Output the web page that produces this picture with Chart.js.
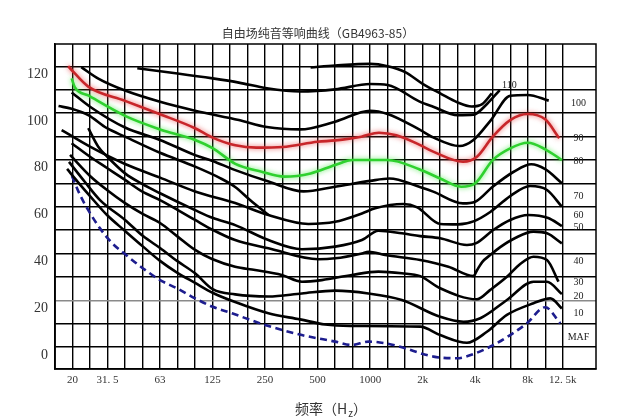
<!DOCTYPE html>
<html>
<head>
<meta charset="utf-8">
<script src="https://cdn.jsdelivr.net/npm/chart.js@4.4.1/dist/chart.umd.min.js"></script>
<style>
  html, body { margin: 0; padding: 0; background: #fff; }
  canvas { display: block; }
</style>
</head>
<body>
<canvas id="chart" width="634" height="417"></canvas>
<script>
// x values are 1/3-octave band numbers: 0 = 20 Hz, 3 bands per octave
const bandIdx = [0, 2, 5, 8, 11, 14, 17, 20, 23, 26, 28];
const bandText = ["20", "31. 5", "63", "125", "250", "500", "1000", "2k", "4k", "8k", "12. 5k"];
const dbTicks = [0, 20, 40, 60, 80, 100, 120];

// equal loudness curves (band, dB)
const p120x = [13.6, 15, 17, 18, 19, 20, 21, 22, 22.8, 23.4, 23.95];
const p120y = [119.5, 120.3, 121, 120, 117.5, 112.5, 108.4, 104.5, 102.8, 103.8, 108.4];

const p110x = [3.7, 6, 8, 9.5, 11.1, 13, 15, 17, 18, 19.8, 20.6, 22, 22.9, 23.7, 24.4];
const p110y = [119.1, 116.9, 114.8, 113, 110.6, 109.2, 110.1, 112.4, 112, 105, 102.7, 99.1, 99.3, 104.1, 109.8];

const p100x = [0.5, 1.5, 3, 5, 7, 9.5, 11.1, 13, 15, 17, 18, 19.8, 20.6, 22.1, 22.9, 23.9, 25, 26, 27.2];
const p100y = [119.6, 114.6, 109.6, 104.8, 101, 97, 94, 93, 96.3, 101, 99.6, 93, 89.6, 85.9, 88.5, 97, 107.4, 107.7, 105.3];

const p90x = [-0.25, 0.9, 3, 5, 7, 8, 9.3, 10.5, 12, 14, 15, 16.5, 17.5, 18.5, 19.8, 20.6, 22.3, 23.1, 24, 25, 26, 27, 27.8];
const p90y = [120, 111.3, 105.2, 99.5, 93.5, 89.5, 86.2, 85.2, 85.5, 87.7, 88.3, 89.9, 91.6, 90.5, 86.5, 83.5, 79.2, 81.3, 89.9, 97, 99.6, 97.3, 89.2];

const p80x = [-0.05, 0.15, 0.9, 3, 5, 7, 8, 9.3, 10.8, 12.1, 13.6, 15, 16, 18, 19.8, 21, 22.2, 23, 24, 25, 26, 27, 27.95];
const p80y = [114.8, 110.8, 107.5, 98.8, 93, 88.5, 85, 78.3, 74.9, 72.8, 74.2, 77.8, 79.9, 79.9, 76, 72, 68.5, 70, 79.9, 84.9, 87.3, 84.5, 79.9];

const p70x = [-0.05, 1, 3, 5, 7, 8, 9.3, 11.2, 13.2, 15, 17, 18.1, 19.8, 20.6, 22.3, 23, 24, 25.2, 26.2, 27, 27.95];
const p70y = [108.8, 102.7, 93.8, 88.5, 82, 79.5, 75.6, 70.7, 66.5, 68.5, 71, 72, 68.5, 66.4, 61.4, 62.1, 68.5, 74.9, 78.1, 76, 70];

// short upper branch that joins the 60 curve near 250 Hz
const p60ax = [-0.8, -0.05, 0.9, 1.97, 3, 5, 7, 8.43, 9.29, 10.14, 11.19];
const p60ay = [103, 101.8, 99.1, 93.5, 89.9, 83, 77.1, 72.2, 68.4, 62.8, 56.4];

const p60x = [-0.62, 1, 3, 5, 7, 9.29, 11.19, 13.47, 15, 16.53, 17.29, 18.89, 19.69, 21, 22.03, 22.94, 23.86, 25, 26.14, 27.1, 27.95];
const p60y = [92.7, 85.6, 78.2, 72.4, 66.5, 61.5, 56.4, 52.6, 53.5, 57.1, 59.3, 61.1, 59.7, 52.6, 52.4, 53.8, 57.7, 64.5, 68.8, 67.1, 60];

const p50x = [0.9, 1.47, 1.99, 3, 3.97, 5, 7, 8.03, 9.29, 11.19, 13.1, 15, 16.53, 17.47, 18.81, 19.86, 21, 22.53, 23.06, 24.03, 25, 26.03, 27.17, 27.95];
const p50y = [93.5, 85.6, 81.3, 74.2, 69.7, 65.7, 58.5, 55.1, 52.1, 45.7, 41.8, 42.9, 45.7, 49.7, 48.6, 47.4, 46.5, 43.6, 44.4, 50, 54.3, 56.4, 55.1, 51.7];

const p40x = [-0.05, 1, 1.99, 3, 3.99, 5, 7, 8.03, 9.29, 11.19, 14.05, 15, 16.53, 16.9, 17.86, 19.86, 21.47, 22.9, 23.11, 23.4, 23.86, 24.43, 25.29, 26.33, 27.1, 27.95];
const p40y = [87.1, 81.3, 76.4, 71.4, 66.4, 62.8, 54.3, 50, 45.7, 42.2, 37.5, 37.9, 40, 40.7, 39.3, 37.2, 34.3, 30.3, 32.9, 36.3, 39.3, 42.7, 46.6, 49.3, 48.6, 44.3];

const p30x = [-0.14, 1, 1.97, 3, 4.03, 5, 5.97, 7, 7.97, 9.29, 10.43, 11.95, 13.1, 14.24, 15.95, 17.47, 18.81, 19.86, 21, 23.1, 23.86, 24.81, 25.57, 26.33, 27.1, 27.76];
const p30y = [82.1, 73.1, 67.1, 61.5, 56.8, 53, 47.4, 41.5, 37.6, 34.3, 32.9, 30.8, 27.9, 28.6, 30.8, 32.2, 31.5, 30.3, 25.1, 20.4, 24.4, 30, 35.5, 38.6, 37.2, 27.9];

const p20x = [-0.2, 0.71, 1.57, 3, 4.03, 5, 5.97, 7, 8.03, 9.29, 11.19, 13.1, 15, 16.9, 18.81, 21, 22.33, 23.29, 24.81, 26.33, 27.1, 27.95];
const p20y = [79.1, 70.5, 62.8, 54.3, 47.4, 42.3, 36.8, 31.5, 24.6, 22.5, 21.6, 22.9, 24.1, 22.9, 20.1, 12.9, 10.8, 12.3, 20.1, 27.9, 27.9, 22.6];

const p10x = [-0.31, 0.31, 1, 1.97, 3, 4.03, 5, 5.97, 7, 8.03, 9.29, 11.19, 13, 14.43, 15.86, 19.86, 21, 22.53, 23.67, 24.81, 26.33, 27.29, 27.95];
const p10y = [76.1, 70.5, 64.5, 56.4, 49.6, 42.9, 36.8, 31.8, 27.4, 23.1, 19.2, 14.4, 11.8, 9.6, 9, 8.7, 5.1, 1.8, 6.5, 13.7, 18.7, 20.8, 16.5];

const mafX = [-0.03, 0.43, 0.9, 1.57, 2.26, 3, 3.99, 5, 5.99, 7, 7.97, 9.11, 11, 13.1, 15, 15.95, 16.9, 17.86, 18.71, 20.62, 21.95, 22.9, 24.05, 25, 25.95, 27, 27.86];
const mafY = [73.1, 65, 58.5, 50.7, 44.4, 39.7, 33.8, 28.6, 25, 20.8, 17.3, 14.4, 9.4, 5.1, 2.3, 0.85, 2.3, 1.6, 0.1, -4.1, -4.8, -3, 0.85, 5.1, 10.1, 17, 10.1];

// curve names written in the right column
const labelText = ["110", "100", "90", "80", "70", "60", "50", "40", "30", "20", "10", "MAF"];
const labelX = [24.95, 28.9, 28.9, 28.9, 28.9, 28.9, 28.9, 28.9, 28.9, 28.9, 28.9, 28.9];
const labelY = [112, 104.3, 89.3, 79.5, 64.5, 56.4, 51.3, 36.8, 27.8, 21.8, 14.5, 4.3];

function curve(xs, ys, color, extra) {
    return Object.assign({
        data: xs.map((x, i) => ({ x: x, y: ys[i] })),
        borderColor: color,
        borderWidth: 2.6,
        fill: false,
        pointRadius: 0,
        cubicInterpolationMode: "monotone"
    }, extra || {});
}

const datasets = [
    curve(p120x, p120y, "#000"),
    curve(p110x, p110y, "#000"),
    curve(p100x, p100y, "#000"),
    curve(p70x, p70y, "#000"),
    curve(p60ax, p60ay, "#000"),
    curve(p60x, p60y, "#000"),
    curve(p50x, p50y, "#000"),
    curve(p40x, p40y, "#000"),
    curve(p30x, p30y, "#000"),
    curve(p20x, p20y, "#000"),
    curve(p10x, p10y, "#000"),
    curve(mafX, mafY, "#1d1d8e", { borderDash: [7, 4.5] }),
    curve(p80x, p80y, "#2fd12f", { glow: "rgba(60,230,60,0.8)" }),
    curve(p90x, p90y, "#c8262a", { glow: "rgba(230,60,60,0.8)" })
];

const serif = "'Liberation Serif', 'DejaVu Serif', serif";
const cjk = "'Noto Sans CJK SC', sans-serif";

// soft halo on the red and green lines
const glowPlugin = {
    id: "glow",
    beforeDatasetDraw(chart, args) {
        const ds = chart.data.datasets[args.index];
        if (ds.glow) {
            chart.ctx.save();
            chart.ctx.shadowColor = ds.glow;
            chart.ctx.shadowBlur = 5;
        }
    },
    afterDatasetDraw(chart, args) {
        if (chart.data.datasets[args.index].glow) chart.ctx.restore();
    }
};

// outer frame, titles and curve labels
const textPlugin = {
    id: "texts",
    beforeDatasetsDraw(chart) {
        const a = chart.chartArea, ctx = chart.ctx;
        ctx.save();
        ctx.strokeStyle = "#000";
        ctx.lineWidth = 1.5;
        ctx.strokeRect(a.left, a.top, a.right - a.left, a.bottom - a.top);
        ctx.restore();
    },
    afterDraw(chart) {
        const ctx = chart.ctx;
        const xs = chart.scales.x, ys = chart.scales.y;
        ctx.save();
        ctx.fillStyle = "#333";
        ctx.textBaseline = "middle";
        ctx.textAlign = "center";
        ctx.font = "12px " + cjk;
        ctx.fillText("自由场纯音等响曲线（GB4963-85）", 318, 33);

        ctx.font = "10px " + serif;
        ctx.fillStyle = "#222";
        labelText.forEach((t, i) => {
            ctx.fillText(t, xs.getPixelForValue(labelX[i]), ys.getPixelForValue(labelY[i]));
        });

        // axis title with subscript z
        ctx.textAlign = "left";
        ctx.fillStyle = "#333";
        let x = 295;
        ctx.font = "14px " + cjk;
        ctx.fillText("频率（H", x, 409);
        x += ctx.measureText("频率（H").width;
        ctx.font = "10px " + cjk;
        ctx.fillText("z", x + 1, 413);
        x += ctx.measureText("z").width + 1;
        ctx.font = "14px " + cjk;
        ctx.fillText("）", x, 409);
        ctx.restore();
    }
};

const bandTicks = [];
for (let i = -1; i <= 28; i++) bandTicks.push(i);
const dbGrid = [0, 10, 20, 30, 40, 50, 60, 70, 80, 90, 100, 110, 120];

new Chart(document.getElementById("chart").getContext("2d"), {
    type: "line",
    data: { datasets: datasets },
    options: {
        responsive: false,
        animation: false,
        layout: { padding: { top: 44, right: 38, left: 0, bottom: 0 } },
        plugins: { legend: { display: false }, tooltip: { enabled: false } },
        scales: {
            x: {
                type: "linear",
                min: -1,
                max: 29.9,
                afterBuildTicks: s => { s.ticks = bandTicks.map(v => ({ value: v })); },
                afterFit: s => { s.height = 48; },
                border: { color: "#000", width: 1.5 },
                grid: { color: "#000", lineWidth: 1.4, drawTicks: false },
                ticks: {
                    autoSkip: false,
                    maxRotation: 0,
                    padding: 5,
                    color: "#333",
                    font: { family: serif, size: 11 },
                    callback: v => {
                        const i = bandIdx.indexOf(v);
                        return i >= 0 ? bandText[i] : "";
                    }
                }
            },
            y: {
                min: -9.4,
                max: 129.5,
                afterBuildTicks: s => { s.ticks = dbGrid.map(v => ({ value: v })); },
                afterFit: s => { s.width = 55; },
                border: { color: "#000", width: 1.5 },
                grid: {
                    color: c => (c.tick && c.tick.value === 20 ? "#8a8a8a" : "#000"),
                    lineWidth: 1.4,
                    drawTicks: false
                },
                ticks: {
                    padding: 7,
                    labelOffset: 8,
                    color: "#333",
                    font: { family: serif, size: 14 },
                    callback: v => (dbTicks.includes(v) ? String(v) : "")
                }
            }
        }
    },
    plugins: [glowPlugin, textPlugin]
});
</script>
</body>
</html>
